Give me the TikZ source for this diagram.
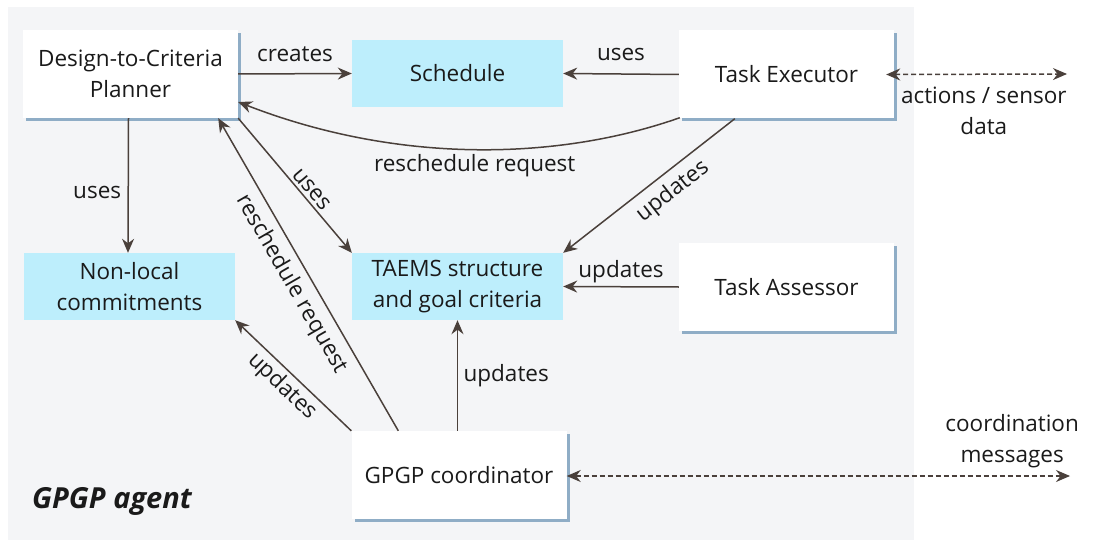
\documentclass[tikz,border=0pt]{standalone}
\usepackage{fontspec}
\setmainfont{Open Sans}
\usetikzlibrary{arrows.meta,calc,shadows,positioning}
\definecolor{panelgray}{HTML}{F4F5F7}
\definecolor{storecyan}{HTML}{BDEEFC}
\definecolor{shadowblue}{HTML}{8FADC6}
\definecolor{linkbrown}{HTML}{4A403B}
\definecolor{inkblack}{HTML}{1A1A1A}
\tikzset{
  >={Stealth[length=14pt,width=12pt]},
  agentbox/.style={fill=white, minimum width=215pt, minimum height=88pt, align=center,
                   drop shadow={shadow xshift=3pt, shadow yshift=-3pt, fill=shadowblue, opacity=1}},
  storebox/.style={fill=storecyan, minimum width=211pt, minimum height=67pt, align=center},
  link/.style={draw=linkbrown, line width=1.5pt, ->},
  extlink/.style={draw=linkbrown, line width=1.5pt, <->, dash pattern=on 5pt off 3pt},
  linklabel/.style={text=inkblack, align=center}
}

\begin{document}
\begin{tikzpicture}[x=1pt, y=-1pt, font=\fontsize{22.5}{31}\selectfont, text=inkblack]
    \useasboundingbox (0,0) rectangle (1099,540);

      % Agent panel.
      \fill[panelgray] (8,7) rectangle (914,540);
      \node[font=\fontsize{29}{32}\selectfont\bfseries\itshape] (agentlabel) at (112,501) {GPGP agent};

      % Components and data stores.
      \node[agentbox] (planner)  at (130.5,74)  {Design-to-Criteria\\Planner};
      \node[storebox] (schedule) at (457.5,73.5) {Schedule};
      \node[agentbox] (executor) at (786.5,74.5) {Task Executor};
      \node[storebox] (nonlocal) at (129.5,286.5) {Non-local\\commitments};
      \node[storebox] (taems)    at (457.5,286.5) {TAEMS structure\\and goal criteria};
      \node[agentbox] (assessor) at (786.5,287) {Task Assessor};
      \node[agentbox] (gpgp)     at (459,475)   {GPGP coordinator};

      % Outside world.
      \coordinate (sensorend) at (1067,74);
      \coordinate (msgend) at (1070,476);

      % Links inside the agent.
      \draw[link] (planner.east) -- node[linklabel, above=8pt] {creates} (schedule.west);
      \draw[link] (executor.west) -- node[linklabel, above=9pt] {uses} (schedule.east);
      \draw[link] ($(executor.south west)+(1,-1)$) .. controls (560,160) and (400,165) ..
        node[linklabel, below=1pt] {reschedule request} ($(planner.east)+(0,28)$);
      \draw[link] ($(planner.south)+(-2,0)$) -- node[linklabel, left=3pt, pos=0.55] {uses} ($(nonlocal.north)+(-1.5,0)$);
      \draw[link] (planner.south east) -- node[linklabel, sloped, above, pos=0.58] {uses} (taems.north west);
      \draw[link] ($(executor.south west)+(56,0)$) -- node[linklabel, sloped, below=4pt, pos=0.43] {updates} (taems.north east);
      \draw[link] (assessor.west) -- node[linklabel, above] {updates} (taems.east);
      \draw[link] (gpgp.north west) -- node[linklabel, sloped, below] {updates} (nonlocal.south east);
      \draw[link] ($(gpgp.north west)+(47,0)$) -- node[linklabel, sloped, below=4pt] {reschedule request} ($(planner.south east)+(-20,0)$);
      \draw[link] (taems.south |- gpgp.north) -- node[linklabel, right=2pt] {updates} (taems.south);

      % Links to the outside.
      \draw[extlink] ($(executor.east)+(-8,0)$) -- node[linklabel, below=9pt, pos=0.54] {actions / sensor\\data} (sensorend);
      \draw[extlink] ($(gpgp.east)+(0,1)$) -- node[linklabel, above=4pt, pos=0.885] {coordination\\messages} (msgend);
    \end{tikzpicture}
\end{document}
